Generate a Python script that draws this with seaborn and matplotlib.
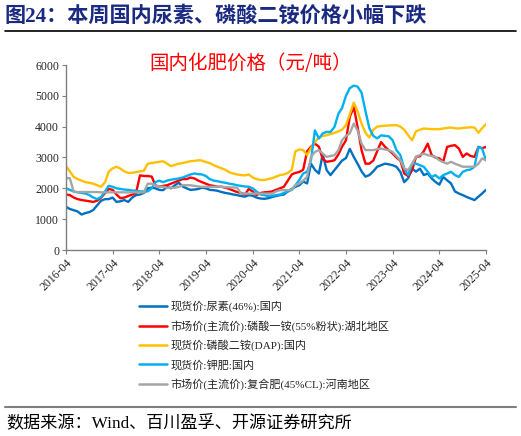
import pandas as pd
import numpy as np
import matplotlib
matplotlib.use("Agg")
import matplotlib.pyplot as plt
import matplotlib.dates as mdates
import seaborn as sns

# monthly readings, 2016-04 .. 2025-04
months = pd.date_range("2016-04-01", "2025-04-01", freq="MS")

urea = [1400, 1330, 1290, 1250, 1150, 1200, 1230, 1300, 1450,
        1600, 1650, 1650, 1700, 1560, 1580, 1620, 1560, 1700, 1780, 1800, 1850,
        2000, 2020, 2000, 1950, 1940, 2050, 2000, 2100, 2180, 2060, 2000, 1950,
        1960, 1980, 2020, 2000, 1950, 1940, 1920, 1880, 1850, 1830, 1800, 1780,
        1750, 1730, 1780, 1760, 1700, 1670, 1660, 1680, 1720, 1750, 1780, 1800,
        1900, 1980, 2050, 2100, 2220, 2160, 2800, 2600, 2480, 3100, 2590, 2430,
        2590, 2750, 2900, 2980, 3280, 3020, 2800, 2550, 2380, 2430, 2550, 2700,
        2750, 2800, 2780, 2750, 2700, 2530, 2200, 2330, 2640, 2540, 2640, 2430,
        2480, 2320, 2210, 2120, 2370, 2260, 2160, 1900, 1830, 1780, 1720, 1670,
        1620, 1730, 1830, 1950]

map_hubei = [1800, 1780, 1700, 1650, 1620, 1600, 1580, 1560, 1600,
             1700, 1850, 1980, 1950, 1800, 1680, 1700, 1750, 1800, 1850, 2420, 2400,
             2400, 2380, 2100, 2050, 2080, 2100, 2150, 2200, 2250, 2300, 2300, 2350,
             2320, 2250, 2200, 2150, 2100, 2080, 2050, 2050, 2020, 1980, 1930, 1880,
             1850, 1800, 1980, 1900, 1780, 1850, 1870, 1880, 1900, 1950, 2000, 2050,
             2250, 2450, 2500, 2530, 2600, 3200, 3350, 3450, 3350, 2950, 2860, 2880,
             2910, 3100, 3345, 3560, 4320, 4640, 3990, 3240, 2800, 2800, 2900, 3200,
             3500, 3345, 3240, 3130, 3000, 2900, 2480, 2400, 2590, 3020, 3040, 3200,
             3450, 3075, 3000, 2970, 2860, 3345, 3380, 3400, 3290, 3020, 3130, 3050,
             3020, 3345, 3300, 3345]

dap = [2720, 2550, 2370, 2300, 2250, 2200, 2180, 2150, 2100,
       2050, 2200, 2540, 2650, 2700, 2640, 2550, 2500, 2500, 2530, 2550, 2570,
       2800, 2820, 2840, 2860, 2880, 2800, 2720, 2760, 2800, 2820, 2850, 2880,
       2890, 2910, 2900, 2850, 2820, 2750, 2700, 2650, 2600, 2520, 2480, 2450,
       2430, 2420, 2450, 2350, 2300, 2270, 2270, 2300, 2330, 2380, 2430, 2450,
       2500, 2600, 3200, 3260, 3240, 3080, 3300, 3500, 3650, 3700, 3720, 3760,
       3800, 3850, 3900, 4050, 4400, 4780, 4500, 4100, 3800, 3650, 3900, 4000,
       4020, 4030, 4040, 4045, 4050, 4000, 3900, 3720, 3560, 3850, 3900, 3940,
       3930, 3920, 3920, 3920, 3940, 3960, 3970, 3950, 3940, 3960, 3970, 3980,
       3970, 3800, 3950, 4080]

potash = [2000, 1950, 1900, 1870, 1850, 1830, 1780, 1700, 1650,
          1720, 1900, 2080, 2050, 2000, 1980, 1960, 1950, 1930, 1920, 1900, 1900,
          1900, 2000, 2200, 2250, 2200, 2250, 2280, 2300, 2320, 2350, 2400, 2450,
          2480, 2460, 2450, 2400, 2300, 2250, 2230, 2200, 2180, 2150, 2130, 2100,
          2080, 2060, 2050, 2000, 1900, 1800, 1780, 1750, 1760, 1780, 1800, 1850,
          1900, 1950, 2100, 2270, 2480, 2540, 2900, 3880, 3615, 3780, 3830, 3830,
          3990, 4420, 4600, 5000, 5250, 5330, 5300, 5100, 4500, 3950, 3700, 3620,
          3720, 3700, 3690, 3560, 3240, 3075, 2645, 2430, 2800, 2800, 2750, 2700,
          2535, 2370, 2430, 2320, 2430, 2480, 2535, 2430, 2370, 2535, 2590, 2610,
          2700, 3345, 3290, 2910]

compound = [2330, 2330, 1880, 1880, 1880, 1880, 1880, 1880, 1880,
            1870, 1870, 1870, 1870, 1870, 1870, 1870, 1870, 1870, 1870, 1870, 1870,
            2150, 2150, 2100, 2050, 2050, 2020, 2020, 2020, 2050, 2100, 2100, 2100,
            2080, 2060, 2050, 2050, 2050, 2050, 2050, 2050, 2040, 2030, 2030, 2020,
            1830, 1830, 1830, 1830, 1830, 1830, 1830, 1830, 1830, 1900, 1940, 1940,
            1940, 1960, 2100, 2160, 2250, 2370, 3020, 3180, 3240, 3130, 3020, 3050,
            3075, 3240, 3560, 3700, 3780, 4100, 3880, 3450, 3240, 3240, 3240, 3270,
            3290, 3260, 3240, 3180, 3050, 2910, 2645, 2590, 2800, 3020, 3080, 3130,
            3075, 3050, 3020, 2910, 2850, 2800, 2860, 2800, 2750, 2700, 2700, 2700,
            2700, 2800, 2970, 2910]

labels = ["现货价:尿素(46%):国内",
          "市场价(主流价):磷酸一铵(55%粉状):湖北地区",
          "现货价:磷酸二铵(DAP):国内",
          "现货价:钾肥:国内",
          "市场价(主流价):复合肥(45%CL):河南地区"]
colors = ["#0070C0", "#FF0000", "#FFC000", "#00B0F0", "#A5A5A5"]

df = pd.DataFrame({"date": months, labels[0]: urea, labels[1]: map_hubei,
                   labels[2]: dap, labels[3]: potash, labels[4]: compound})
long = df.melt(id_vars="date", var_name="series", value_name="price")

sns.set_style("ticks")
plt.rcParams["font.family"] = ["Liberation Serif", "Noto Sans CJK SC"]

fig = plt.figure(figsize=(5.21, 4.36), dpi=100)
ax = fig.add_axes([66 / 521, 1 - 250 / 436, 420 / 521, 185 / 436])

sns.lineplot(data=long, x="date", y="price", hue="series", hue_order=labels,
             palette=colors, linewidth=1.7, ax=ax, legend=False)

ax.set_xlim(months[0], months[-1])
ax.set_ylim(0, 6000)
ax.set_yticks(range(0, 6001, 1000))
ticks = pd.date_range("2016-04-01", "2025-04-01", freq="12MS")
ax.set_xticks(ticks)
ax.xaxis.set_major_formatter(mdates.DateFormatter("%Y-%m"))
plt.setp(ax.get_xticklabels(), rotation=45, ha="right", rotation_mode="anchor")
ax.tick_params(labelsize=8.5, length=3, color="#7F7F7F", pad=2)
ax.set_xlabel("")
ax.set_ylabel("")
for side in ["top", "right"]:
    ax.spines[side].set_visible(False)
for side in ["left", "bottom"]:
    ax.spines[side].set_color("#7F7F7F")
    ax.spines[side].set_linewidth(1.0)

handles = [plt.Line2D([], [], color=c, lw=1.8) for c in colors]
fig.legend(handles, labels, loc="upper left", bbox_to_anchor=(133 / 521, 1 - 295 / 436),
           frameon=False, fontsize=8, handlelength=2.6, handletextpad=0.3,
           labelspacing=0.72, borderpad=0)

fig.text(251 / 521, 1 - 64 / 436, "国内化肥价格（元/吨）", color="#FF0000",
         fontsize=14, ha="center", va="center", family=["Noto Sans CJK SC"])
fig.text(5 / 521, 1 - 16 / 436, "图24：本周国内尿素、磷酸二铵价格小幅下跌", color="#1A2A80",
         fontsize=15.2, fontweight="bold", ha="left", va="center")
fig.add_artist(plt.Line2D([5 / 521, 516 / 521], [1 - 31.5 / 436] * 2, color="black", lw=1.2))
fig.add_artist(plt.Line2D([5 / 521, 516 / 521], [1 - 406.5 / 436] * 2, color="#7F7F7F", lw=1.5))
fig.text(6 / 521, 1 - 423 / 436, "数据来源：Wind、百川盈孚、开源证券研究所", color="black",
         fontsize=12.3, ha="left", va="center")

fig.savefig("out.png", dpi=100)
